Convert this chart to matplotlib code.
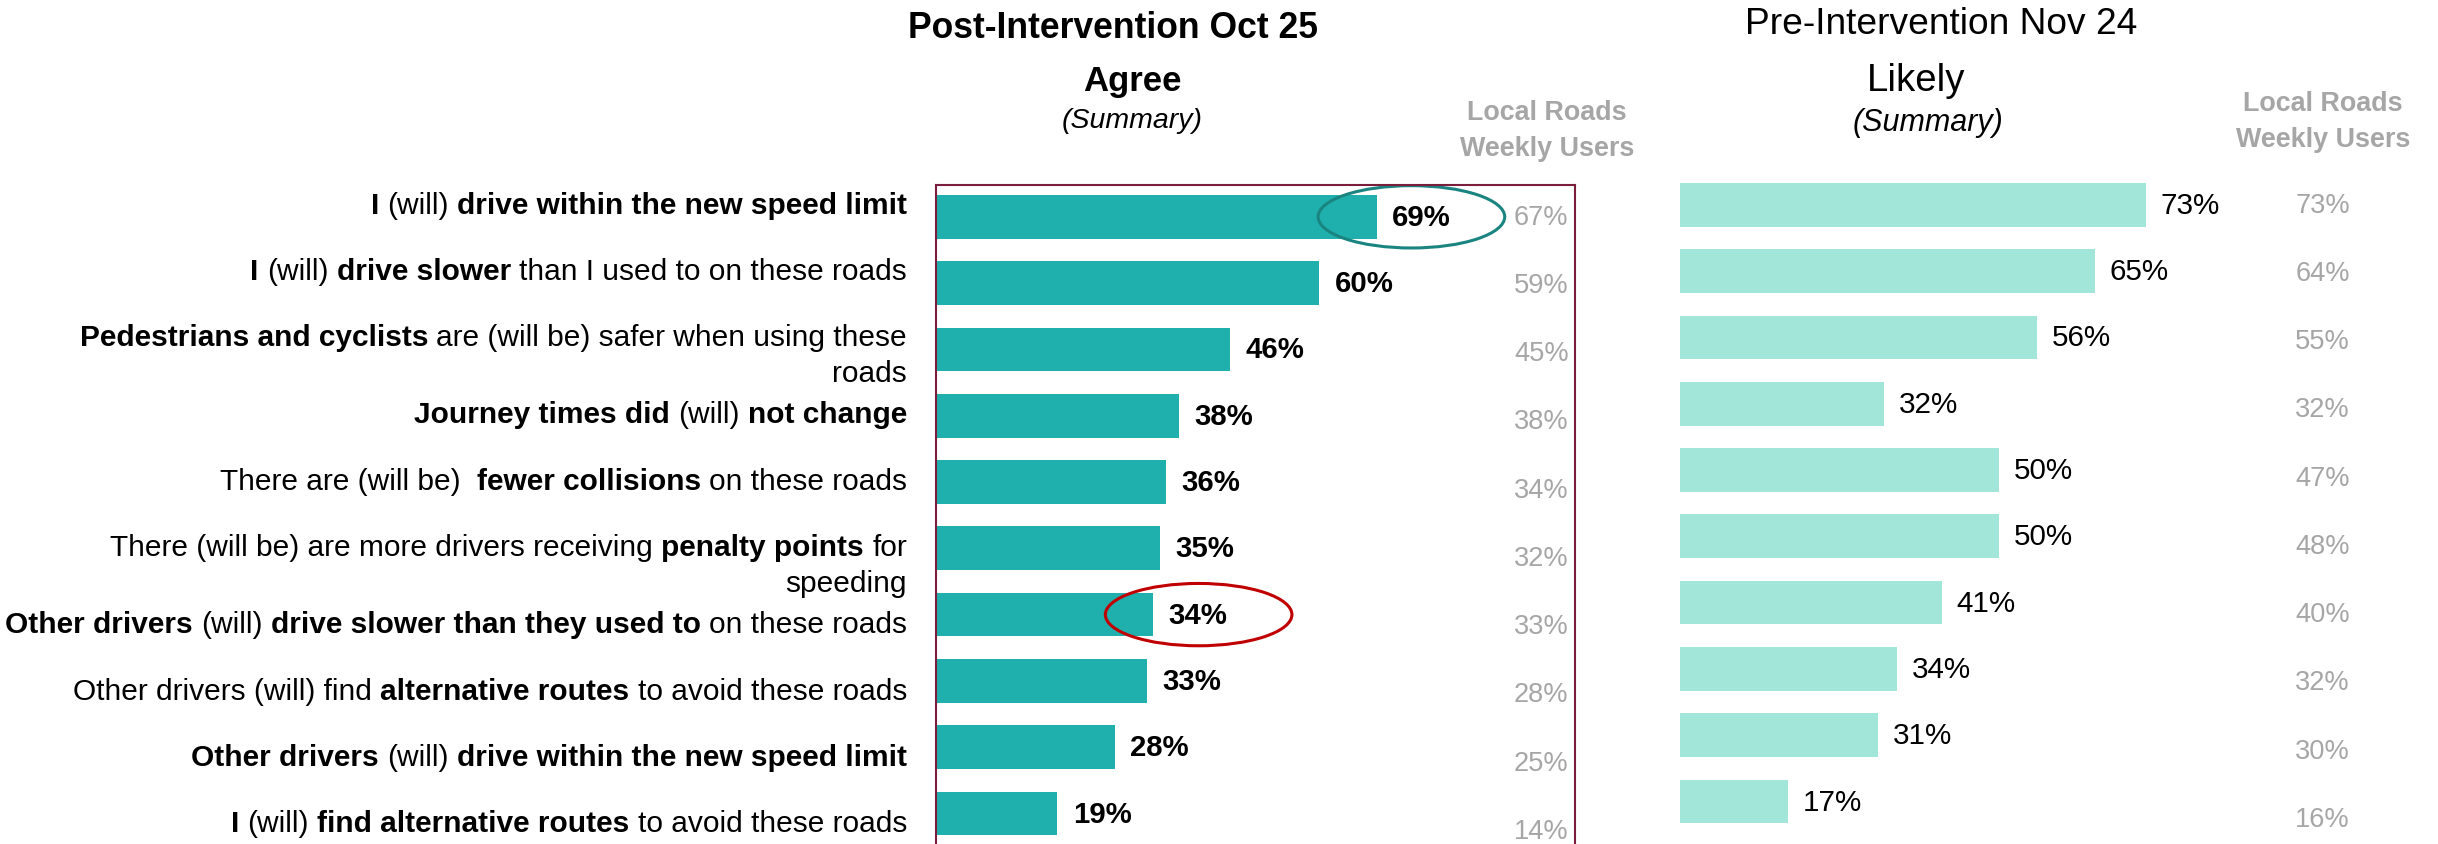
import matplotlib
matplotlib.use("Agg")
import matplotlib.pyplot as plt
import matplotlib.transforms as mtransforms
from matplotlib.patches import Ellipse

# statements, bold parts marked with ** **, wrapped lines with \n
labels = [
    "**I** (will) **drive within the new speed limit**",
    "**I** (will) **drive slower** than I used to on these roads",
    "**Pedestrians and cyclists** are (will be) safer when using these\nroads",
    "**Journey times did** (will) **not change**",
    "There are (will be)  **fewer collisions** on these roads",
    "There (will be) are more drivers receiving **penalty points** for\nspeeding",
    "**Other drivers** (will) **drive slower than they used to** on these roads",
    "Other drivers (will) find **alternative routes** to avoid these roads",
    "**Other drivers** (will) **drive within the new speed limit**",
    "**I** (will) **find alternative routes** to avoid these roads",
]
post_agree = [69, 60, 46, 38, 36, 35, 34, 33, 28, 19]
post_weekly = [67, 59, 45, 38, 34, 32, 33, 28, 25, 14]
pre_likely = [73, 65, 56, 32, 50, 50, 41, 34, 31, 17]
pre_weekly = [73, 64, 55, 32, 47, 48, 40, 32, 30, 16]
# row -> (ellipse colour, centre offset from bar end)
highlight = {0: ("#1a8580", 5.4), 6: ("#c00000", 7.1)}

plt.rcParams["font.family"] = ["Liberation Sans", "DejaVu Sans"]

TEAL = "#1fb0ad"
MINT = "#a1e6d8"
GREY = "#a6a6a6"
BOX = "#7b1e3c"

W, H = 2438, 845
fig = plt.figure(figsize=(W / 100, H / 100), dpi=100)
rend = fig.canvas.get_renderer()

ax = fig.add_axes([936 / W, 0, 639 / W, 659 / H])
ax2 = fig.add_axes([1680 / W, 12 / H, 638 / W, 659 / H])
n = len(labels)
rows = list(range(n))
for a in (ax, ax2):
    a.set_xlim(0, 100)
    a.set_ylim(9.46, -0.48)
    a.set_xticks([])
    a.set_yticks([])

ax.barh(rows, post_agree, height=0.66, color=TEAL)
for s in ("left", "top", "right"):
    ax.spines[s].set_color(BOX)
    ax.spines[s].set_linewidth(1.5)
ax.spines["bottom"].set_visible(False)
ax.patch.set_alpha(0)

ax2.barh(rows, pre_likely, height=0.66, color=MINT)
ax2.axis("off")

for i in rows:
    ax.text(post_agree[i] + 2.4, i, f"{post_agree[i]}%", va="center", ha="left",
            fontsize=21.2, fontweight="bold", color="black")
    ax.text(99, i * 1.029, f"{post_weekly[i]}%", va="center", ha="right",
            fontsize=19.6, color=GREY)
    ax2.text(pre_likely[i] + 2.3, i, f"{pre_likely[i]}%", va="center", ha="left",
             fontsize=21.3, color="black")
    ax2.text(105, i * 1.029, f"{pre_weekly[i]}%", va="center", ha="right",
             fontsize=19.6, color=GREY, clip_on=False)

for i, (col, off) in highlight.items():
    ax.add_patch(Ellipse((post_agree[i] + off, i), 29.2, 0.94, fill=False,
                         edgecolor=col, linewidth=2.2, clip_on=False))

# mixed bold / regular statement labels, right aligned
LFS = 21.5


def width(t, bold):
    tt = fig.text(0, 0, t, fontsize=LFS, fontweight="bold" if bold else "normal")
    w = tt.get_window_extent(rend).width
    tt.remove()
    return w


space = {b: width("a a", b) - width("aa", b) for b in (False, True)}
base = mtransforms.blended_transform_factory(fig.transFigure, ax.transData)
x_right = 907 / W
line_gap = 0.54

extra = 0  # wrapped rows push the following labels down a little
for i, lab in enumerate(labels):
    lines = lab.split("\n")
    y0 = -0.185 + i + 0.165 * extra
    extra += len(lines) - 1
    for j, line in enumerate(lines):
        parts = line.split("**")
        pieces = [(p, idx % 2 == 1) for idx, p in enumerate(parts) if p]
        cur = 0.0
        for txt, bold in reversed(pieces):
            cur -= (len(txt) - len(txt.rstrip(" "))) * space[bold]
            core = txt.strip(" ")
            if core:
                tr = mtransforms.offset_copy(base, fig=fig, x=cur, y=0, units="dots")
                fig.text(x_right, y0 + j * line_gap, core, transform=tr, ha="right",
                         va="center", fontsize=LFS,
                         fontweight="bold" if bold else "normal", color="black")
                cur -= width(core, bold)
            cur -= (len(txt) - len(txt.lstrip(" "))) * space[bold]


# headers
def ftext(x, y, s, **kw):
    fig.text(x / W, 1 - y / H, s, ha="center", va="center", **kw)


ftext(1113, 29, "Post-Intervention Oct 25", fontsize=25.6, fontweight="bold")
ftext(1132, 82, "Agree", fontsize=25, fontweight="bold")
ftext(1132, 121, "(Summary)", fontsize=20.5, style="italic")
ftext(1547, 113, "Local Roads", fontsize=19.4, fontweight="bold", color=GREY)
ftext(1547, 149, "Weekly Users", fontsize=19.4, fontweight="bold", color=GREY)
ftext(1941, 25, "Pre-Intervention Nov 24", fontsize=26.7)
ftext(1916, 81, "Likely", fontsize=27.6)
ftext(1928, 123, "(Summary)", fontsize=22, style="italic")
ftext(2323, 104, "Local Roads", fontsize=19.4, fontweight="bold", color=GREY)
ftext(2323, 140, "Weekly Users", fontsize=19.4, fontweight="bold", color=GREY)

fig.savefig("out.png", dpi=100)
